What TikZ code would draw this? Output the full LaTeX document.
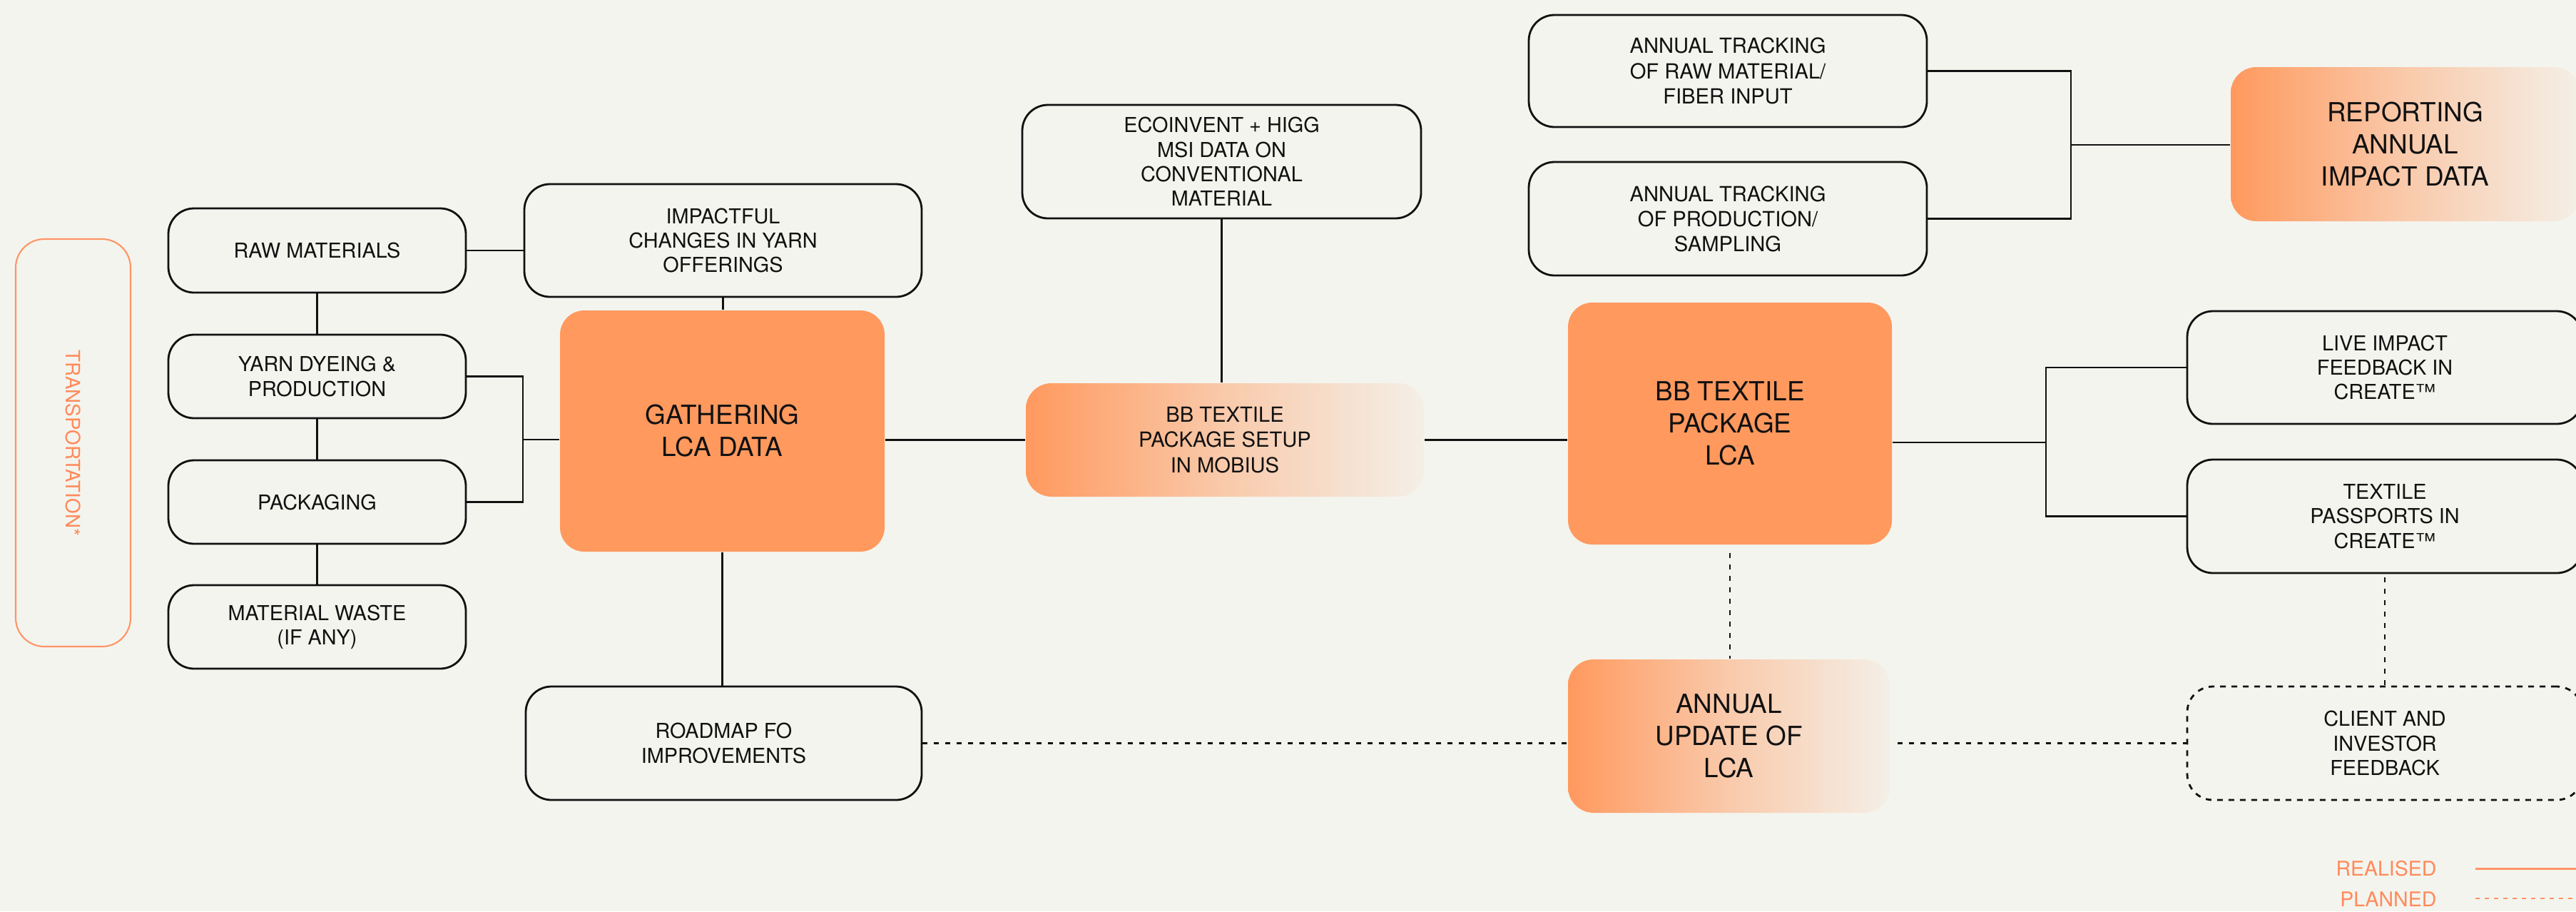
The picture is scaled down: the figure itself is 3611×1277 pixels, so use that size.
\documentclass[tikz,border=0pt]{standalone}
\usepackage{fontspec}
\setmainfont{TeX Gyre Heros}
\usetikzlibrary{calc}
\definecolor{bg}{HTML}{F4F4EE}
\definecolor{org}{HTML}{FF995E}
\definecolor{orgtxt}{HTML}{FF8A5B}
\definecolor{orgline}{HTML}{FF9466}
\definecolor{fadeend}{HTML}{F4EFE7}
\definecolor{fademid}{HTML}{F9CAAB}
\definecolor{ink}{HTML}{111111}
\newcommand{\myboxfont}{\fontsize{8.2}{9.8}\selectfont}
\newcommand{\mymidfont}{\fontsize{8.3}{10}\selectfont}
\newcommand{\mybigfont}{\fontsize{10.5}{12.8}\selectfont}
\begin{document}
\begin{tikzpicture}[x=0.1mm,y=-0.1mm,
  box/.style={draw=ink, line width=0.8pt, rounded corners=3.6mm, align=center, text=ink, font=\myboxfont, inner sep=0pt},
  dbox/.style={box, dash pattern=on 0.8mm off 0.8mm},
  solidbox/.style={fill=org, rounded corners=3.4mm, align=center, text=ink, font=\mybigfont, inner sep=0pt},
  gradbox/.style={left color=org, right color=fadeend, middle color=fademid, rounded corners=3.6mm, align=center, text=ink, inner sep=0pt},
  conn/.style={draw=ink, line width=0.8pt},
  plan/.style={draw=ink, line width=0.8pt, dash pattern=on 0.7mm off 0.9mm},
]
\fill[bg] (0,0) rectangle (3611,1277);
\useasboundingbox (0,0) rectangle (3611,1277);

% left column
\node[draw=orgline, line width=0.6pt, rounded corners=4mm, rotate=-90, minimum width=57.1mm, minimum height=16.1mm, text=orgtxt, font=\fontsize{7.9}{9}\selectfont, inner sep=0pt] (trans) at (102.5,620.5) {TRANSPORTATION*};
\node[box, minimum width=41.7mm, minimum height=11.8mm] (raw) at (444.5,351) {RAW MATERIALS};
\node[box, minimum width=41.7mm, minimum height=11.7mm] (yarn) at (444.5,527.5) {YARN DYEING \&\\PRODUCTION};
\node[box, minimum width=41.7mm, minimum height=11.7mm] (pack) at (444.5,703.5) {PACKAGING};
\node[box, minimum width=41.7mm, minimum height=11.7mm] (waste) at (444.5,878.5) {MATERIAL WASTE\\(IF ANY)};

% middle
\node[box, minimum width=55.7mm, minimum height=15.8mm] (impact) at (1013.5,337) {IMPACTFUL\\CHANGES IN YARN\\OFFERINGS};
\node[solidbox, minimum width=45.5mm, minimum height=33.8mm] (gather) at (1012.5,604) {GATHERING\\LCA DATA};
\node[box, minimum width=55.5mm, minimum height=15.9mm] (roadmap) at (1014.5,1041.5) {ROADMAP FO\\IMPROVEMENTS};
\node[box, minimum width=55.9mm, minimum height=15.9mm] (eco) at (1712.5,226.5) {ECOINVENT + HIGG\\MSI DATA ON\\CONVENTIONAL\\MATERIAL};
\node[gradbox, font=\mymidfont, minimum width=55.8mm, minimum height=15.9mm] (setup) at (1717,616.5) {BB TEXTILE\\PACKAGE SETUP\\IN MOBIUS};

% right part
\node[solidbox, minimum width=45.4mm, minimum height=33.9mm] (bblca) at (2425,593.5) {BB TEXTILE\\PACKAGE\\LCA};
\node[box, font=\mymidfont, minimum width=55.8mm, minimum height=15.7mm] (track1) at (2422,99.5) {ANNUAL TRACKING\\OF RAW MATERIAL/\\FIBER INPUT};
\node[box, font=\mymidfont, minimum width=55.8mm, minimum height=15.9mm] (track2) at (2422,306.5) {ANNUAL TRACKING\\OF PRODUCTION/\\SAMPLING};
\node[gradbox, font=\mybigfont, minimum width=48.9mm, minimum height=21.6mm] (report) at (3371.5,202) {REPORTING\\ANNUAL\\IMPACT DATA};
\node[box, minimum width=55.4mm, minimum height=15.8mm] (live) at (3343,515) {LIVE IMPACT\\FEEDBACK IN\\CREATE™};
\node[box, minimum width=55.4mm, minimum height=15.9mm] (pass) at (3343,723.5) {TEXTILE\\PASSPORTS IN\\CREATE™};
\node[gradbox, font=\mybigfont, minimum width=45.1mm, minimum height=21.5mm] (update) at (2423.5,1031.5) {ANNUAL\\UPDATE OF\\LCA};
\node[dbox, minimum width=55.4mm, minimum height=15.9mm] (client) at (3343,1041.5) {CLIENT AND\\INVESTOR\\FEEDBACK};

% connectors (realised)
\draw[conn] (raw) -- (yarn);
\draw[conn] (yarn) -- (pack);
\draw[conn] (pack) -- (waste);
\draw[conn] (raw.east) -- (raw.east -| impact.west);
\coordinate (bl) at (733,616);
\draw[conn] (yarn.east) -| (bl) |- (pack.east);
\draw[conn] (bl) -- (bl -| gather.west);
\draw[conn] (impact.south) -- (impact.south |- gather.north);
\draw[conn] (gather.south) -- (gather.south |- roadmap.north);
\draw[conn] (gather.east |- setup.west) -- (setup.west);
\draw[conn] (eco.south) -- (eco.south |- setup.north);
\draw[conn] (setup.east) -- (setup.east -| bblca.west);
\coordinate (br) at (2868,620);
\draw[conn] (bblca.east |- br) -- (br);
\draw[conn] (live.west) -| (br) |- (pass.west);
\coordinate (tr) at (2903,203);
\draw[conn] (track1.east) -| (tr) |- (track2.east);
\draw[conn] (tr) -- (tr -| report.west);

% connectors (planned)
\draw[plan, shorten <=1.1mm] (bblca.south) -- (bblca.south |- update.north);
\draw[plan, shorten <=0.5mm] (pass.south) -- (pass.south |- client.north);
\draw[plan] (roadmap.east) -- (roadmap.east -| update.west);
\draw[plan, shorten <=1mm] (update.east |- roadmap.east) -- (client.west);

% legend
\node[anchor=east, text=orgtxt, font=\fontsize{8.1}{9.7}\selectfont, inner sep=0pt] (realised) at (3416,1217) {REALISED};
\node[anchor=east, text=orgtxt, font=\fontsize{8.1}{9.7}\selectfont, inner sep=0pt] (planned) at (3416,1260) {PLANNED};
\coordinate (rl1) at (3470,1217);
\coordinate (rl2) at (3620,1217);
\coordinate (pl1) at (3470,1259);
\coordinate (pl2) at (3620,1259);
\draw[draw=orgline, line width=0.85pt] (rl1) -- (rl2);
\draw[draw=orgline, line width=0.6pt, dash pattern=on 0.6mm off 0.7mm] (pl1) -- (pl2);
\end{tikzpicture}
\end{document}
